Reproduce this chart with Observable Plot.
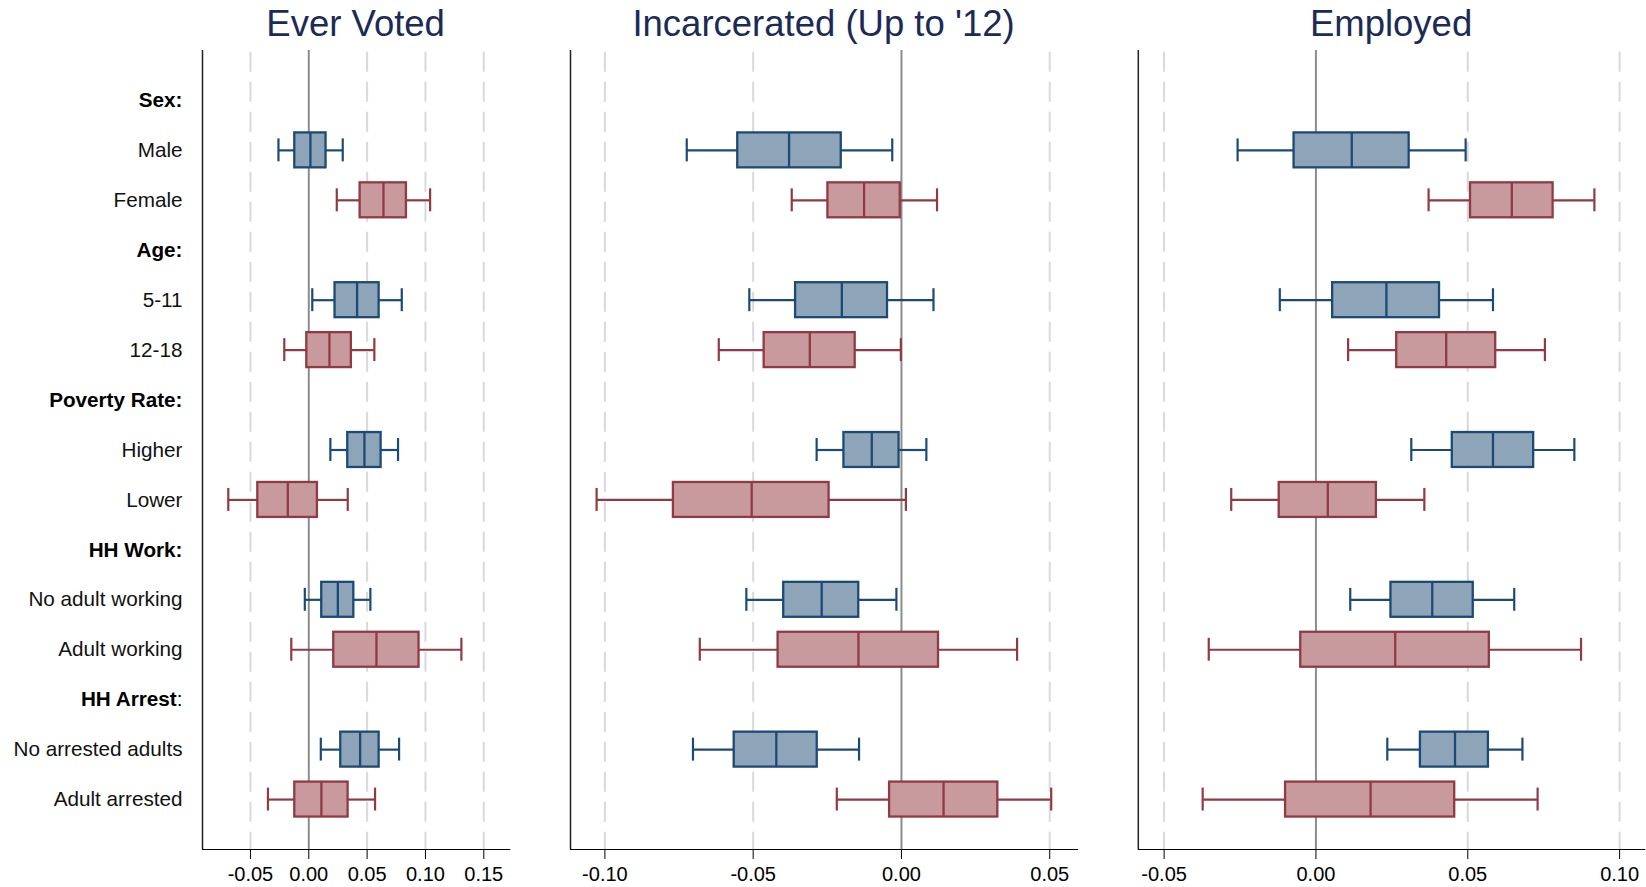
<!DOCTYPE html>
<html>
<head>
<meta charset="utf-8">
<script src="https://cdn.jsdelivr.net/npm/d3@7"></script>
<script src="https://cdn.jsdelivr.net/npm/@observablehq/plot@0.6"></script>
<style>
  html, body { margin: 0; padding: 0; background: #fff; overflow: hidden; }
  #root { position: relative; width: 1646px; height: 887px; font-family: "Liberation Sans", Arial, sans-serif; }
  .panel { position: absolute; top: 44px; }
  .title { position: absolute; top: 5px; height: 40px; line-height: 37px; font-size: 36.5px; color: #1c2b55; text-align: center; white-space: nowrap; }
  .panel svg g[aria-label*="x-axis"] text { font-size: 20px; fill: #000; }
</style>
</head>
<body>
<div id="root"></div>
<script>
// ---- Data ----
const rows = ["Sex:", "Male", "Female", "Age:", "5-11", "12-18", "Poverty Rate:", "Higher", "Lower",
              "HH Work:", "No adult working", "Adult working", "HH Arrest:", "No arrested adults", "Adult arrested"];
const groupHeaders = ["Sex:", "Age:", "Poverty Rate:", "HH Work:", "HH Arrest:"];
const subgroups = ["Male", "Female", "5-11", "12-18", "Higher", "Lower",
                   "No adult working", "Adult working", "No arrested adults", "Adult arrested"];
const series = ["first", "second", "first", "second", "first", "second", "first", "second", "first", "second"];

const outcomes = ["Ever Voted", "Incarcerated (Up to '12)", "Employed"];

// Ever Voted
const votedWhiskerLo = [-0.026, 0.024, 0.003, -0.021, 0.0185, -0.069, -0.0034, -0.015, 0.0103, -0.035];
const votedBoxLo     = [-0.012, 0.044, 0.0225, -0.0017, 0.0334, -0.0437, 0.0111, 0.0214, 0.0274, -0.012];
const votedMedian    = [0.0014, 0.064, 0.0414, 0.0177, 0.0477, -0.018, 0.0249, 0.058, 0.044, 0.0108];
const votedBoxHi     = [0.0148, 0.0837, 0.0603, 0.0365, 0.062, 0.0074, 0.0386, 0.0945, 0.0603, 0.0337];
const votedWhiskerHi = [0.0291, 0.104, 0.0797, 0.0562, 0.0765, 0.0334, 0.0528, 0.1308, 0.0774, 0.0568];

// Incarcerated (Up to '12)
const incWhiskerLo = [-0.0724, -0.037, -0.0513, -0.0616, -0.0286, -0.1028, -0.0523, -0.068, -0.0703, -0.0218];
const incBoxLo     = [-0.0552, -0.0248, -0.0357, -0.0463, -0.0194, -0.0769, -0.0397, -0.0416, -0.0564, -0.004];
const incMedian    = [-0.0379, -0.0126, -0.0201, -0.0309, -0.01, -0.0505, -0.0269, -0.0145, -0.0422, 0.0142];
const incBoxHi     = [-0.0203, -0.0004, -0.0047, -0.0156, -0.0008, -0.0244, -0.0144, 0.0125, -0.0284, 0.0325];
const incWhiskerHi = [-0.0031, 0.012, 0.0108, -0.0002, 0.0084, 0.0015, -0.0017, 0.039, -0.0143, 0.0505];

// Employed
const empWhiskerLo = [-0.0258, 0.0371, -0.0119, 0.0106, 0.0314, -0.0279, 0.0113, -0.0353, 0.0235, -0.0373];
const empBoxLo     = [-0.0072, 0.0509, 0.0055, 0.0266, 0.0449, -0.0121, 0.0247, -0.005, 0.0344, -0.01];
const empMedian    = [0.0118, 0.0645, 0.0232, 0.0429, 0.0583, 0.0039, 0.0383, 0.0261, 0.0458, 0.018];
const empBoxHi     = [0.0307, 0.0781, 0.0407, 0.0592, 0.0717, 0.0199, 0.0518, 0.0571, 0.0568, 0.0457];
const empWhiskerHi = [0.0493, 0.0917, 0.0583, 0.0754, 0.0851, 0.0357, 0.0653, 0.0873, 0.068, 0.073];

const ticksVoted = [-0.05, 0, 0.05, 0.10, 0.15];
const ticksInc = [-0.10, -0.05, 0, 0.05];
const ticksEmp = [-0.05, 0, 0.05, 0.10];

// ---- Styling / layout ----
const strokeColors = {first: "#1d4a74", second: "#903a44"};
const fillColors = {first: "#8ea4b9", second: "#c89a9e"};
const FONT = "'Liberation Sans', Arial, sans-serif";
const LABEL_SIZE = 20.7;

function buildTable(wLo, bLo, med, bHi, wHi) {
  return subgroups.map((g, i) => ({
    label: g, series: series[i],
    wLo: wLo[i], bLo: bLo[i], med: med[i], bHi: bHi[i], wHi: wHi[i]
  }));
}

const panels = [
  {title: outcomes[0], data: buildTable(votedWhiskerLo, votedBoxLo, votedMedian, votedBoxHi, votedWhiskerHi),
   ticks: ticksVoted, domain: [-0.0911, 0.1723], left: 0, width: 520, marginLeft: 202, marginRight: 10.7, labels: true},
  {title: outcomes[1], data: buildTable(incWhiskerLo, incBoxLo, incMedian, incBoxHi, incWhiskerHi),
   ticks: ticksInc, domain: [-0.1116, 0.0594], left: 530, width: 556, marginLeft: 40, marginRight: 8.9, labels: false},
  {title: outcomes[2], data: buildTable(empWhiskerLo, empBoxLo, empMedian, empBoxHi, empWhiskerHi),
   ticks: ticksEmp, domain: [-0.0585, 0.1083], left: 1100, width: 546, marginLeft: 37.8, marginRight: 1.7, labels: false}
];

const root = document.getElementById("root");
const H = 843;

for (const p of panels) {
  const marks = [];
  // dashed gridlines (not at zero)
  marks.push(Plot.ruleX(p.ticks.filter(t => t !== 0), {stroke: "#d9d9d9", strokeWidth: 2, strokeDasharray: "20,10", insetTop: 1.7}));
  // zero line
  marks.push(Plot.ruleX([0], {stroke: "#8c8c8c", strokeWidth: 2}));
  // y axis line
  marks.push(Plot.ruleX([p.domain[0]], {stroke: "#222", strokeWidth: 1.5}));
  // whiskers
  marks.push(Plot.ruleY(p.data, {y: "label", x1: "wLo", x2: "bLo", stroke: d => strokeColors[d.series], strokeWidth: 2.2}));
  marks.push(Plot.ruleY(p.data, {y: "label", x1: "bHi", x2: "wHi", stroke: d => strokeColors[d.series], strokeWidth: 2.2}));
  marks.push(Plot.tickX(p.data, {x: "wLo", y: "label", stroke: d => strokeColors[d.series], strokeWidth: 2.2, insetTop: 6, insetBottom: 6}));
  marks.push(Plot.tickX(p.data, {x: "wHi", y: "label", stroke: d => strokeColors[d.series], strokeWidth: 2.2, insetTop: 6, insetBottom: 6}));
  // boxes
  marks.push(Plot.barX(p.data, {x1: "bLo", x2: "bHi", y: "label", fill: d => fillColors[d.series], stroke: d => strokeColors[d.series], strokeWidth: 2.3}));
  // medians
  marks.push(Plot.tickX(p.data, {x: "med", y: "label", stroke: d => strokeColors[d.series], strokeWidth: 2.3}));
  // row labels
  if (p.labels) {
    const plain = rows.filter(r => !groupHeaders.includes(r));
    marks.push(Plot.text(plain, {y: d => d, text: d => d, frameAnchor: "left", dx: -20, textAnchor: "end", fontSize: LABEL_SIZE, fill: "#111"}));
    const bold = groupHeaders.filter(r => r !== "HH Arrest:");
    marks.push(Plot.text(bold, {y: d => d, text: d => d, frameAnchor: "left", dx: -20, textAnchor: "end", fontSize: LABEL_SIZE, fontWeight: "bold", fill: "#000"}));
    marks.push(Plot.text(["HH Arrest:"], {y: d => d, text: () => "HH Arrest", frameAnchor: "left", dx: -25.8, textAnchor: "end", fontSize: LABEL_SIZE, fontWeight: "bold", fill: "#000"}));
    marks.push(Plot.text(["HH Arrest:"], {y: d => d, text: () => ":", frameAnchor: "left", dx: -20, textAnchor: "end", fontSize: LABEL_SIZE, fill: "#000"}));
  }

  const svg = Plot.plot({
    width: p.width,
    height: H,
    marginLeft: p.marginLeft,
    marginRight: p.marginRight,
    marginTop: 6,
    marginBottom: 38,
    style: {fontFamily: FONT, fontSize: "20px", color: "#000", background: "transparent", overflow: "visible"},
    x: {domain: p.domain, ticks: p.ticks, tickFormat: d => d.toFixed(2), tickSize: 10, tickPadding: 7, line: true, label: null},
    y: {type: "band", domain: rows, paddingInner: 0.3, paddingOuter: 0.65, round: false, axis: null},
    marks
  });
  const wrap = document.createElement("div");
  wrap.className = "panel";
  wrap.style.left = p.left + "px";
  wrap.appendChild(svg);
  root.appendChild(wrap);

  const t = document.createElement("div");
  t.className = "title";
  t.textContent = p.title;
  t.style.left = (p.left + p.marginLeft) + "px";
  t.style.width = (p.width - p.marginLeft - p.marginRight) + "px";
  root.appendChild(t);
}
</script>
</body>
</html>
